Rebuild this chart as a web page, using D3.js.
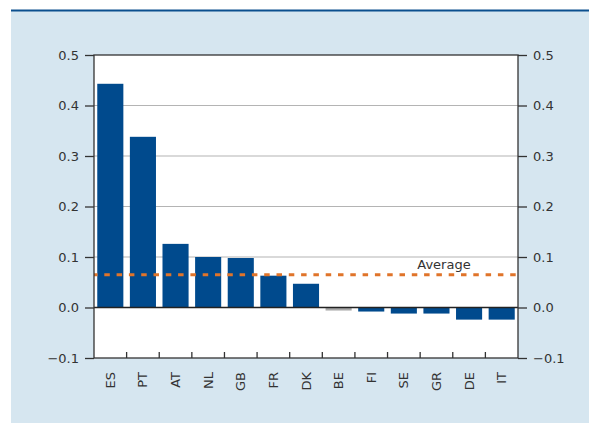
<!DOCTYPE html>
<html><head><meta charset="utf-8">
<script src="https://cdn.jsdelivr.net/npm/d3@7"></script>
<style>body{margin:0;background:#fff}svg{display:block}text{font-family:"DejaVu Sans",sans-serif;fill:#333}</style>
</head><body>
<svg id="c" width="589" height="425"></svg>
<script>
const categories = ["ES","PT","AT","NL","GB","FR","DK","BE","FI","SE","GR","DE","IT"];
const values = [0.443,0.338,0.126,0.100,0.098,0.063,0.047,-0.006,-0.008,-0.012,-0.012,-0.024,-0.024];
const highlight = ["BE"];
const average = 0.065;
const averageLabel = "Average";
const yTicks = [-0.1,0,0.1,0.2,0.3,0.4,0.5];

const svg = d3.select("#c");
const L=94,R=518,T=55,B=358;
const FONT="DejaVu Sans";
svg.append("rect").attr("x",11).attr("y",11).attr("width",578).attr("height",412).attr("fill","#d6e6f0");
svg.append("rect").attr("x",11).attr("y",9.5).attr("width",578).attr("height",2).attr("fill","#0b4f8e");
const x=d3.scaleBand().domain(categories).range([L,R]).paddingInner(0.2).paddingOuter(0.1);
const y=d3.scaleLinear().domain([-0.1,0.5]).range([B,T]);
svg.append("rect").attr("x",L).attr("y",T).attr("width",R-L).attr("height",B-T).attr("fill","#fff");
// grid
svg.append("g").selectAll("line").data(yTicks.filter(t=>t>-0.1&&t<0.5&&t!==0)).join("line")
 .attr("x1",L).attr("x2",R).attr("y1",d=>y(d)).attr("y2",d=>y(d)).attr("stroke","#b4b4b4").attr("stroke-width",1.2);
// bars
svg.append("g").selectAll("rect").data(values).join("rect")
 .attr("x",(d,i)=>x(categories[i])).attr("width",x.bandwidth())
 .attr("y",d=>y(Math.max(0,d))).attr("height",d=>Math.abs(y(d)-y(0)))
 .attr("fill",(d,i)=>highlight.includes(categories[i])?"#a9a9a9":"#004a8d");
// zero line
svg.append("line").attr("x1",L).attr("x2",R).attr("y1",y(0)).attr("y2",y(0)).attr("stroke","#222").attr("stroke-width",1.5);
// average
svg.append("line").attr("x1",L).attr("x2",R).attr("y1",y(average)).attr("y2",y(average))
 .attr("stroke","#e0742a").attr("stroke-width",3).attr("stroke-dasharray","5.5,6.8").attr("stroke-dashoffset",2);
svg.append("text").attr("x",444).attr("y",y(average)-6).attr("text-anchor","middle").attr("font-size",13).text(averageLabel);
// frame
svg.append("rect").attr("x",L).attr("y",T).attr("width",R-L).attr("height",B-T).attr("fill","none").attr("stroke","#333").attr("stroke-width",1.3);
// axes
const fmt=d=>d<0?"\u2212"+Math.abs(d).toFixed(1):d.toFixed(1);
const la=svg.append("g").attr("transform",`translate(${L},0)`).call(d3.axisLeft(y).tickValues(yTicks).tickFormat(fmt).tickSize(9).tickPadding(6));
const ra=svg.append("g").attr("transform",`translate(${R},0)`).call(d3.axisRight(y).tickValues(yTicks).tickFormat(fmt).tickSize(9).tickPadding(6));
[la,ra].forEach(g=>{g.select(".domain").remove();g.selectAll("line").attr("stroke","#333").attr("stroke-width",1.3);
 g.selectAll("text").attr("font-size",13).attr("font-family",FONT).attr("fill","#333");});
// x ticks at band boundaries (inside)
const bounds=categories.slice(1).map(c=>x(c)-x.step()*x.paddingInner()/2);
svg.append("g").selectAll("line").data(bounds).join("line").attr("x1",d=>d).attr("x2",d=>d).attr("y1",B).attr("y2",B-6).attr("stroke","#333").attr("stroke-width",1.3);
// x labels
svg.append("g").selectAll("text").data(categories).join("text")
 .attr("transform",d=>`translate(${x(d)+x.bandwidth()/2+4.5},${B+14}) rotate(-90)`)
 .attr("text-anchor","end").attr("font-size",13).text(d=>d);
</script></body></html>
